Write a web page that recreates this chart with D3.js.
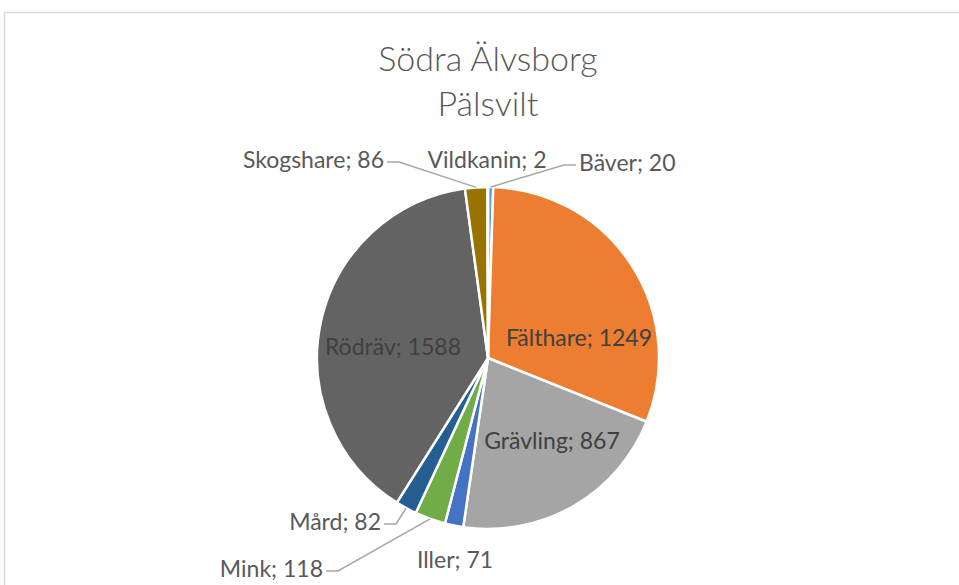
<!DOCTYPE html>
<html>
<head>
<meta charset="utf-8">
<script src="https://cdn.jsdelivr.net/npm/d3@7"></script>
<style>
  body { margin: 0; background: #fff; }
  svg { display: block; font-family: Lato, 'Open Sans', sans-serif; }
</style>
</head>
<body>
<svg id="chart" width="959" height="585"></svg>
<script>
const titleLines = ['Södra Älvsborg', 'Pälsvilt'];
const categories = ['Bäver', 'Fälthare', 'Grävling', 'Iller', 'Mink', 'Mård', 'Rödräv', 'Skogshare', 'Vildkanin'];
const values = [20, 1249, 867, 71, 118, 82, 1588, 86, 2];
const colors = ['#5B9BD5', '#ED7D31', '#A5A5A5', '#4472C4', '#70AD47', '#255E91', '#636363', '#997300', '#264478'];

const svg = d3.select('#chart');
const cx = 488, cy = 358, radius = 171;

// chart frame
svg.append('rect')
  .attr('x', 4.5).attr('y', 12.5)
  .attr('width', 1000).attr('height', 1000)
  .attr('fill', 'none')
  .attr('stroke', '#d9d9d9')
  .attr('stroke-width', 1.5);

// title
svg.append('text')
  .attr('x', cx).attr('y', 71)
  .attr('text-anchor', 'middle')
  .attr('fill', '#595959')
  .style('font-size', '34px')
  .style('font-weight', 300)
  .selectAll('tspan')
  .data(titleLines)
  .join('tspan')
  .attr('x', cx)
  .attr('dy', (d, i) => i ? 45 : 0)
  .text(d => d);

const data = categories.map((c, i) => ({ name: c, value: values[i], color: colors[i] }));

const pie = d3.pie().sort(null).value(d => d.value);
const arc = d3.arc().innerRadius(0).outerRadius(radius);
const arcs = pie(data);

const g = svg.append('g').attr('transform', `translate(${cx},${cy})`);

g.selectAll('path')
  .data(arcs)
  .join('path')
  .attr('d', arc)
  .attr('fill', d => d.data.color)
  .attr('stroke', '#fff')
  .attr('stroke-width', 2.5)
  .attr('stroke-linejoin', 'round');

// label placement (relative to pie centre), Excel "best fit" style
const labelLayout = {
  'Bäver':     { dx: 91,   dy: -187, anchor: 'start',  leader: true },
  'Fälthare':  { dx: 91,   dy: -12,  anchor: 'middle', inside: true },
  'Grävling':  { dx: 64,   dy: 91,   anchor: 'middle', inside: true },
  'Iller':     { dx: -33,  dy: 210,  anchor: 'middle' },
  'Mink':      { dx: -165, dy: 219,  anchor: 'end',    leader: true },
  'Mård':      { dx: -107, dy: 172,  anchor: 'end',    leader: true },
  'Rödräv':    { dx: -95,  dy: -3,   anchor: 'middle', inside: true },
  'Skogshare': { dx: -104, dy: -190, anchor: 'end',    leader: true },
  'Vildkanin': { dx: -1,   dy: -190, anchor: 'middle' }
};

const outerPoint = d => {
  const a = (d.startAngle + d.endAngle) / 2;
  return [Math.sin(a) * radius, -Math.cos(a) * radius];
};

// leader lines
const line = d3.line();
g.selectAll('path.leader')
  .data(arcs.filter(d => labelLayout[d.data.name].leader))
  .join('path')
  .attr('class', 'leader')
  .attr('fill', 'none')
  .attr('stroke', '#a6a6a6')
  .attr('stroke-width', 1.5)
  .attr('d', d => {
    const L = labelLayout[d.data.name];
    const side = L.anchor === 'end' ? 1 : -1;
    const y0 = L.dy - 6;
    const x0 = L.dx + side * 3;
    const x1 = x0 + side * 12;
    return line([[x0, y0], [x1, y0], outerPoint(d)]);
  });

g.selectAll('text.lbl')
  .data(arcs)
  .join('text')
  .attr('class', 'lbl')
  .attr('x', d => labelLayout[d.data.name].dx)
  .attr('y', d => labelLayout[d.data.name].dy)
  .attr('text-anchor', d => labelLayout[d.data.name].anchor)
  .attr('fill', d => labelLayout[d.data.name].inside ? '#404040' : '#595959')
  .style('font-size', '23px')
  .text(d => `${d.data.name}; ${d.data.value}`);
</script>
</body>
</html>
